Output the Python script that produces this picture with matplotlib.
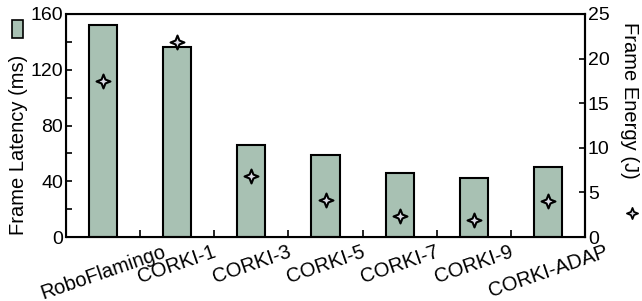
import matplotlib
matplotlib.use("Agg")
import matplotlib.pyplot as plt
from matplotlib.path import Path
from matplotlib.patches import Rectangle
from matplotlib.lines import Line2D
import numpy as np

categories = ["RoboFlamingo", "CORKI-1", "CORKI-3", "CORKI-5", "CORKI-7", "CORKI-9", "CORKI-ADAP"]
latency_ms = [152, 136, 66, 59, 46, 42, 50.5]
energy_j = [17.5, 21.9, 6.8, 4.1, 2.3, 1.9, 4.0]
left_ticks = [0, 40, 80, 120, 160]
right_ticks = [0, 5, 10, 15, 20, 25]

plt.rcParams['font.family'] = ['Liberation Sans', 'DejaVu Sans']
plt.rcParams['font.size'] = 14

bar_color = "#a8c1b3"
star_fill = "#dcdce6"

# 4-pointed concave star marker
s = 0.28
verts = [(0, 1), (s, s), (1, 0), (s, -s), (0, -1), (-s, -s), (-1, 0), (-s, s), (0, 1)]
codes = [Path.MOVETO] + [Path.LINETO] * 7 + [Path.CLOSEPOLY]
star = Path(verts, codes)

fig = plt.figure(figsize=(6.42, 3.01), dpi=100)
ax = fig.add_axes([66 / 642, 1 - 237 / 301, (585 - 66) / 642, (237 - 14) / 301])
x = np.arange(len(categories))
ax.bar(x, latency_ms, width=0.38, color=bar_color, edgecolor="black", linewidth=1.5, zorder=2)
ax.set_xlim(-0.5, len(categories) - 0.5)
ax.set_ylim(0, 160)
ax.set_yticks(left_ticks)
ax.set_yticks([20, 60, 100, 140], minor=True)
ax.tick_params(axis='y', which='both', direction='in', length=4, width=1.2, pad=2)
ax.set_xticks(x)
ax.set_xticklabels(categories, rotation=19, ha='center', fontsize=14.5)
ax.set_xticks(x[:-1] + 0.5, minor=True)
ax.tick_params(axis='x', which='major', length=0, pad=3.5)
ax.tick_params(axis='x', which='minor', direction='in', length=5, width=1.2)
for sp in ax.spines.values():
    sp.set_linewidth(1.5)

ax2 = ax.twinx()
ax2.plot(x, energy_j, linestyle='none', marker=star, markersize=10,
         markerfacecolor=star_fill, markeredgecolor="black", markeredgewidth=1.5, zorder=3)
ax2.set_ylim(0, 25)
ax2.set_yticks(right_ticks)
ax2.tick_params(axis='y', direction='in', length=4, width=1.2, pad=2)
ax2.spines['right'].set_linewidth(1.5)

# left label with legend swatch
fig.text(19 / 642, 1 - 145 / 301, "Frame Latency (ms)", rotation=90, ha='center', va='center', fontsize=14.5)
fig.patches.append(Rectangle((12 / 642, 1 - 38 / 301), 11 / 642, 18 / 301, transform=fig.transFigure,
                             facecolor=bar_color, edgecolor="black", linewidth=1.2, figure=fig))
# right label with legend marker
fig.text(630 / 642, 1 - 100 / 301, "Frame Energy (J)", rotation=-90, ha='center', va='center', fontsize=14.5)
fig.lines.append(Line2D([632 / 642], [1 - 213 / 301], transform=fig.transFigure,
                        marker=star, markersize=8, markerfacecolor=star_fill,
                        markeredgecolor="black", markeredgewidth=1.3, linestyle='none'))

fig.savefig("out.png", dpi=100)
